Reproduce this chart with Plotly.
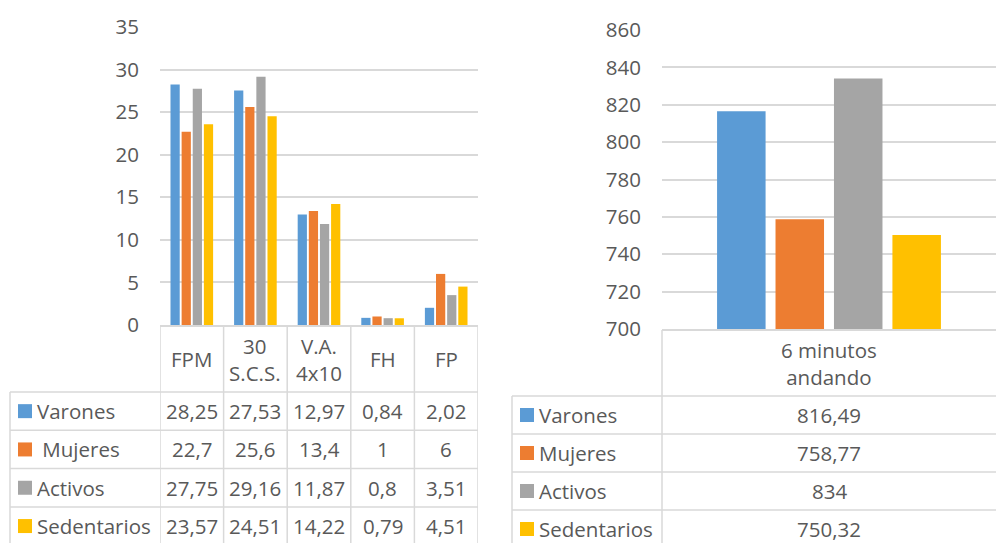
import plotly.graph_objects as go

# ---------------- data ----------------
categories = ["FPM", "30<br>S.C.S.", "V.A.<br>4x10", "FH", "FP"]
series_names = ["Varones", "Mujeres", "Activos", "Sedentarios"]
varones = [28.25, 27.53, 12.97, 0.84, 2.02]
mujeres = [22.7, 25.6, 13.4, 1, 6]
activos = [27.75, 29.16, 11.87, 0.8, 3.51]
sedentarios = [23.57, 24.51, 14.22, 0.79, 4.51]
walk_category = ["6 minutos<br>andando"]
walk_varones = [816.49]
walk_mujeres = [758.77]
walk_activos = [834]
walk_sedentarios = [750.32]
left_ticks = [0, 5, 10, 15, 20, 25, 30, 35]
right_ticks = [700, 720, 740, 760, 780, 800, 820, 840, 860]
colors = ["#5B9BD5", "#ED7D31", "#A5A5A5", "#FFC000"]

left_series = [varones, mujeres, activos, sedentarios]
right_series = [walk_varones, walk_mujeres, walk_activos, walk_sedentarios]

# ---------------- layout helpers ----------------
W, H = 996, 543
FONT = "Open Sans"
FS = 20.5
TXT = "#595959"
GRID = "#D9D9D9"


def px(x):
    return x / W


def py(y):
    return 1 - y / H


def fmt(v):
    return str(v).replace(".", ",")


fig = go.Figure()

for name, vals, c in zip(series_names, left_series, colors):
    fig.add_trace(go.Bar(x=categories, y=vals, name=name, marker=dict(color=c, line=dict(width=0)),
                         xaxis="x", yaxis="y", showlegend=False, hoverinfo="skip"))
for name, vals, c in zip(series_names, right_series, colors):
    fig.add_trace(go.Bar(x=walk_category, y=vals, name=name, marker=dict(color=c, line=dict(width=0)),
                         xaxis="x2", yaxis="y2", showlegend=False, hoverinfo="skip"))

shapes = []
annotations = []
line = dict(color=GRID, width=1.5)

# ----- left table -----
L_axis, L_head, L_row = 326, 392, 38.3
L_left, L_legend_right = 10, 160
n_cat = len(categories)
for i in range(n_cat + 1):
    shapes.append(dict(type="line", xref="x", yref="paper", x0=i - 0.5, x1=i - 0.5,
                       y0=py(L_axis), y1=py(L_head + L_row * 4 + 5), line=line))
shapes.append(dict(type="line", xref="paper", yref="paper", x0=px(L_left), x1=px(L_left),
                   y0=py(L_head), y1=py(L_head + L_row * 4 + 5), line=line))
for r in range(5):
    yy = L_head + L_row * r
    shapes.append(dict(type="line", xref="paper", yref="paper", x0=px(L_left), x1=px(L_legend_right),
                       y0=py(yy), y1=py(yy), line=line))
    shapes.append(dict(type="line", xref="x", yref="paper", x0=-0.5, x1=n_cat - 0.5,
                       y0=py(yy), y1=py(yy), line=line))
for i, cat in enumerate(categories):
    annotations.append(dict(xref="x", yref="paper", x=i, y=py((L_axis + L_head) / 2), text=cat,
                            showarrow=False, xanchor="center", yanchor="middle",
                            font=dict(family=FONT, size=FS, color=TXT)))
left_labels = ["Varones", "\u00a0Mujeres", "Activos", "Sedentarios"]
for r, (lab, vals, c) in enumerate(zip(left_labels, left_series, colors)):
    yc = L_head + L_row * (r + 0.5)
    shapes.append(dict(type="rect", xref="paper", yref="paper", x0=px(18), x1=px(32),
                       y0=py(yc - 7), y1=py(yc + 7), fillcolor=c, line=dict(width=0)))
    annotations.append(dict(xref="paper", yref="paper", x=px(35), y=py(yc), text=lab,
                            showarrow=False, xanchor="left", yanchor="middle",
                            font=dict(family=FONT, size=FS, color=TXT)))
    for i, v in enumerate(vals):
        annotations.append(dict(xref="x", yref="paper", x=i, y=py(yc), text=fmt(v),
                                showarrow=False, xanchor="center", yanchor="middle",
                                font=dict(family=FONT, size=FS, color=TXT)))

# ----- right table -----
R_axis, R_head, R_row = 330, 396, 38.0
R_left, R_legend_right = 512, 662
shapes.append(dict(type="line", xref="paper", yref="paper", x0=px(R_legend_right), x1=px(R_legend_right),
                   y0=py(R_axis), y1=py(R_head + R_row * 4 + 5), line=line))
shapes.append(dict(type="line", xref="paper", yref="paper", x0=px(R_left), x1=px(R_left),
                   y0=py(R_head), y1=py(R_head + R_row * 4 + 5), line=line))
for r in range(5):
    yy = R_head + R_row * r
    shapes.append(dict(type="line", xref="paper", yref="paper", x0=px(R_left), x1=1,
                       y0=py(yy), y1=py(yy), line=line))
annotations.append(dict(xref="x2", yref="paper", x=0, y=py((R_axis + R_head) / 2), text=walk_category[0],
                        showarrow=False, xanchor="center", yanchor="middle",
                        font=dict(family=FONT, size=FS, color=TXT)))
for r, (lab, vals, c) in enumerate(zip(series_names, right_series, colors)):
    yc = R_head + R_row * (r + 0.5)
    shapes.append(dict(type="rect", xref="paper", yref="paper", x0=px(520), x1=px(534),
                       y0=py(yc - 7), y1=py(yc + 7), fillcolor=c, line=dict(width=0)))
    annotations.append(dict(xref="paper", yref="paper", x=px(537), y=py(yc), text=lab,
                            showarrow=False, xanchor="left", yanchor="middle",
                            font=dict(family=FONT, size=FS, color=TXT)))
    annotations.append(dict(xref="x2", yref="paper", x=0, y=py(yc), text=fmt(vals[0]),
                            showarrow=False, xanchor="center", yanchor="middle",
                            font=dict(family=FONT, size=FS, color=TXT)))

axis_font = dict(family=FONT, size=FS, color=TXT)
fig.update_layout(
    width=W, height=H,
    margin=dict(l=0, r=0, t=0, b=0, autoexpand=False),
    paper_bgcolor="white", plot_bgcolor="white",
    barmode="group", bargap=0.3, bargroupgap=0.17,
    xaxis=dict(domain=[px(160), px(478)], showticklabels=False, showgrid=False, zeroline=False,
               showline=True, linecolor=GRID, linewidth=1.5, ticks="", anchor="y", automargin=False,
               range=[-0.5, len(categories) - 0.5]),
    yaxis=dict(domain=[py(325), py(27)], range=[0, 35], tickvals=left_ticks, showgrid=True,
               gridcolor=GRID, gridwidth=1.5, zeroline=False, showline=False, ticks="",
               tickfont=axis_font, ticklabelstandoff=20, anchor="x", automargin=False),
    xaxis2=dict(domain=[px(662), 1], showticklabels=False, showgrid=False, zeroline=False,
                showline=True, linecolor=GRID, linewidth=1.5, ticks="", anchor="y2", automargin=False,
                range=[-0.5, 0.5]),
    yaxis2=dict(domain=[py(329), py(30)], range=[700, 860], tickvals=right_ticks, showgrid=True,
                gridcolor=GRID, gridwidth=1.5, zeroline=False, showline=False, ticks="",
                tickfont=axis_font, ticklabelstandoff=20, anchor="x2", automargin=False),
    shapes=shapes,
    annotations=annotations,
)

fig.write_html("out.html")
